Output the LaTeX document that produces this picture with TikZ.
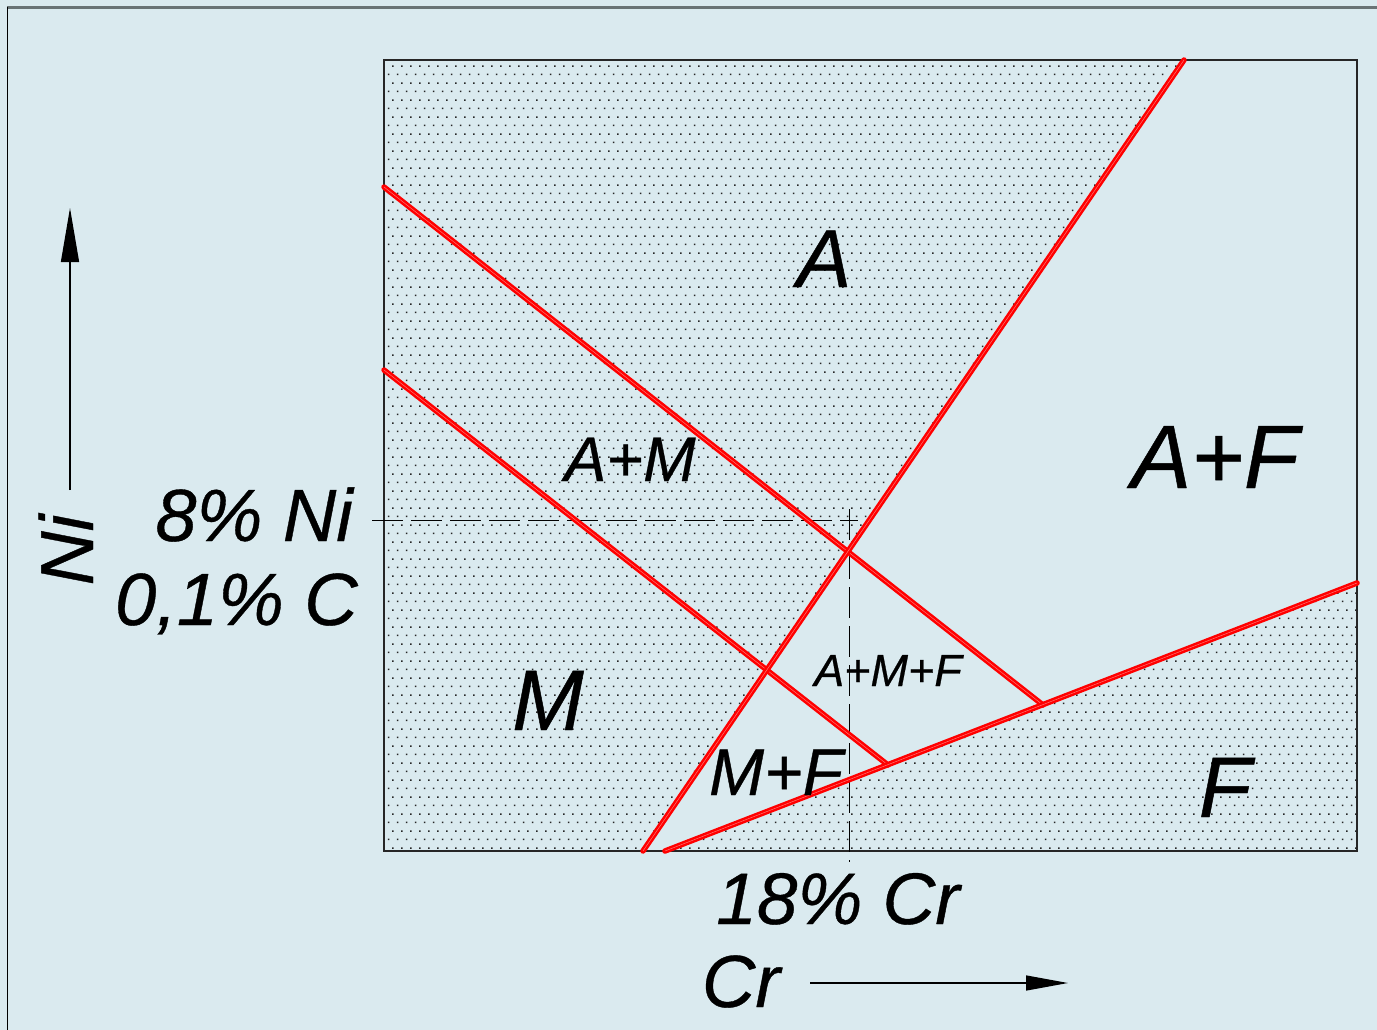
\documentclass[tikz,border=0pt]{standalone}
\usepackage{fontspec}
\setmainfont{Liberation Sans}
\newfontfamily\lblfont[FakeBold=0.5]{Liberation Sans Italic}
\usetikzlibrary{arrows.meta,patterns.meta}
\definecolor{bg}{RGB}{218,234,239}
\definecolor{bordergray}{RGB}{105,115,117}
\definecolor{redl}{RGB}{255,0,0}
\tikzdeclarepattern{
  name=stagdots,
  type=uncolored,
  bounding box={(0pt,0pt) and (8.6pt,17.2pt)},
  tile size={(8.6pt,17.2pt)},
  code={
    \fill (1pt,1pt) rectangle (2.5pt,2.5pt);
    \fill (5.3pt,9.6pt) rectangle (6.8pt,11.1pt);
  }
}
\begin{document}
\begin{tikzpicture}[x=1pt,y=-1pt,
  redline/.style={draw=redl,line width=5.5pt,line cap=round},
  redstreak/.style={draw=red!55!white,line width=0.5pt,line cap=round},
  dashline/.style={draw=black,line width=1pt,dash pattern=on 31pt off 8pt},
  lbl/.style={anchor=base,inner sep=0pt,font=\fontsize{#1}{#1}\selectfont\lblfont},
  axarrow/.style={draw=black,line width=1.4pt}
]
\useasboundingbox (0,0) rectangle (1377,1030);
\fill[bg] (0,0) rectangle (1377,1030);
\draw[bordergray,line width=2.5pt] (7,7.5) -- (1377,7.5);
\draw[black,line width=1.6pt] (7.5,7) -- (7.5,1030);

% coordinates
\coordinate (R1) at (384,60);
\coordinate (R2) at (1357,851);
\coordinate (TR) at (1357,60);
\coordinate (L1a) at (384,187);
\coordinate (L1b) at (1043,705);
\coordinate (L2a) at (384,370);
\coordinate (L2b) at (888,765);
\coordinate (Sa) at (643,851);
\coordinate (Sb) at (1184,60);
\coordinate (Fa) at (665,851);
\coordinate (Fb) at (1357,583);

% dotted fill
\fill[pattern=stagdots,pattern color=black!85] (R1) rectangle (R2);
\fill[bg] (Sa) -- (Sb) -- (TR) -- (Fb) -- (Fa) -- cycle;
\draw[black!85,line width=1.3pt] (R1) rectangle (R2);

% dashed guides
\coordinate (Hd1) at (372,520);
\coordinate (Hd2) at (858,520);
\coordinate (Vd1) at (849,509);
\coordinate (Vd2) at (849,862);
\draw[dashline] (Hd1) -- (Hd2);
\draw[dashline] (Vd1) -- (Vd2);

% red boundaries
\foreach \p/\q in {L1a/L1b,L2a/L2b,Sa/Sb,Fa/Fb}{
  \draw[redline] (\p) -- (\q);
  \draw[redstreak] (\p) -- (\q);
}

% axes arrows
\coordinate (NiA) at (70,490);
\coordinate (NiB) at (70,208);
\coordinate (CrA) at (810,983);
\coordinate (CrB) at (1068,983);
\draw[axarrow,-{Triangle[length=54pt,width=18pt]}] (NiA) -- (NiB);
\draw[axarrow,-{Triangle[length=42pt,width=15pt]}] (CrA) -- (CrB);

% labels
\node[lbl=82] (tA) at (824,287) {A};
\node[lbl=90] (tAF) at (1215,488) {A+F};
\node[lbl=63] (tAM) at (630,481) {A+M};
\node[lbl=74,anchor=base east] (tNi8) at (353,541) {8\% Ni};
\node[lbl=74,anchor=base east] (tC) at (358,625) {0,1\% C};
\node[lbl=86] (tM) at (548,730) {M};
\node[lbl=45] (tAMF) at (888,686) {A+M+F};
\node[lbl=66] (tMF) at (776,795) {M+F};
\node[lbl=86] (tF) at (1225,817) {F};
\node[lbl=73] (tCr18) at (838,924) {18\% Cr};
\node[lbl=74] (tCr) at (741,1007) {Cr};
\node[lbl=75,rotate=90] (tNi) at (93,550) {Ni};
\end{tikzpicture}
\end{document}
